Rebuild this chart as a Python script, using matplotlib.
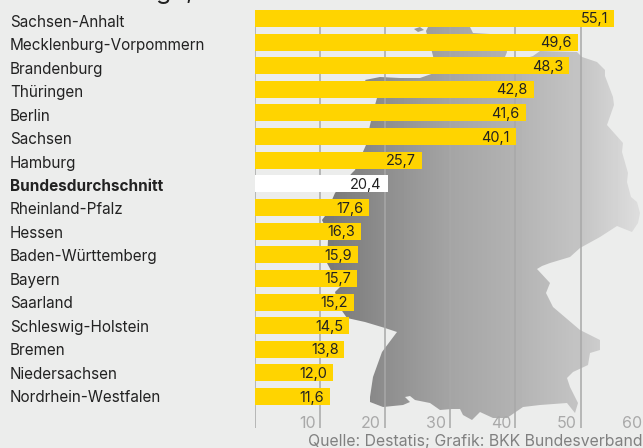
import numpy as np
import matplotlib
matplotlib.use("Agg")
import matplotlib.pyplot as plt
from matplotlib.patches import Polygon

plt.rcParams['font.family'] = ['Inter', 'DejaVu Sans']

W, H = 643, 448
BG = '#ecedec'

# --- data ---
laender = ['Sachsen-Anhalt', 'Mecklenburg-Vorpommern', 'Brandenburg', 'Thüringen',
           'Berlin', 'Sachsen', 'Hamburg', 'Bundesdurchschnitt', 'Rheinland-Pfalz',
           'Hessen', 'Baden-Württemberg', 'Bayern', 'Saarland', 'Schleswig-Holstein',
           'Bremen', 'Niedersachsen', 'Nordrhein-Westfalen']
werte = [55.1, 49.6, 48.3, 42.8, 41.6, 40.1, 25.7, 20.4, 17.6,
         16.3, 15.9, 15.7, 15.2, 14.5, 13.8, 12.0, 11.6]
ticks = [10, 20, 30, 40, 50, 60]
quelle = 'Quelle: Destatis; Grafik: BKK Bundesverband'

# outline of the background map, in picture pixels
karte = [(426, 31), (428, 27), (470, 27), (473, 33), (490, 34), (506, 45), (507, 52), (505, 57),
         (520, 60), (533, 56), (540, 51), (577, 52), (582, 57), (597, 62), (605, 70), (605, 76),
         (613, 97), (614, 105), (607, 125), (623, 143), (622, 152), (628, 173), (627, 182),
         (631, 197), (637, 202), (640, 213), (638, 223), (632, 232), (617, 226), (600, 237),
         (580, 248), (570, 257), (550, 263), (542, 266), (537, 269), (550, 283), (546, 293),
         (553, 307), (580, 330), (600, 340), (600, 350), (590, 353), (588, 365), (573, 372),
         (567, 378), (570, 387), (578, 403), (575, 413), (567, 403), (540, 405), (523, 407),
         (507, 418), (493, 418), (480, 412), (472, 420), (463, 415), (460, 409), (452, 409),
         (440, 410), (430, 403), (415, 400), (410, 396), (405, 397), (410, 402), (403, 405),
         (383, 407), (370, 402), (370, 397), (373, 377), (382, 352), (397, 332), (385, 328),
         (365, 322), (347, 318), (340, 308), (335, 292), (340, 287), (327, 263), (328, 240),
         (330, 237), (322, 220), (325, 216), (335, 193), (352, 173), (355, 170), (366, 145),
         (370, 125), (375, 105), (377, 98), (365, 80), (380, 77), (400, 78), (420, 78),
         (437, 72), (432, 52)]
insel = [(414, 29), (420, 27), (424, 30), (418, 32)]

fig = plt.figure(figsize=(W / 100, H / 100), dpi=100, facecolor=BG)

# --- map layer, full figure in pixel coordinates ---
bg_ax = fig.add_axes([0, 0, 1, 1], zorder=0)
bg_ax.set_xlim(0, W)
bg_ax.set_ylim(H, 0)
bg_ax.axis('off')

# grey gradient from dark (west) to light (east)
gx = np.arange(320, 645)
grau = np.interp(gx, [320, 380, 450, 515, 580, 640], [0.46, 0.55, 0.645, 0.70, 0.77, 0.87])
for umriss in (karte, insel):
    im = bg_ax.imshow(grau[np.newaxis, :], extent=[320, 645, H, 0], cmap='gray',
                      vmin=0, vmax=1, aspect='auto', zorder=1)
    im.set_clip_path(Polygon(umriss, closed=True, transform=bg_ax.transData))
bg_ax.set_xlim(0, W)
bg_ax.set_ylim(H, 0)

# cut off headline above the chart
bg_ax.text(156, -1, 'g', fontsize=18, color='#222222', va='baseline', ha='left')
bg_ax.text(185, -1, ',', fontsize=18, color='#222222', va='baseline', ha='left')

# --- bars ---
STEP = 23.625
x0, top, bottom = 254.5, 10, 428
px_per_unit = 6.52
ax = fig.add_axes([x0 / W, 1 - bottom / H, 60 * px_per_unit / W, (bottom - top) / H], zorder=1)
ax.patch.set_alpha(0)
ax.set_xlim(0, 60)
ax.set_ylim((bottom - 18.5) / STEP, (top - 18.5) / STEP)
for s in ax.spines.values():
    s.set_visible(False)
ax.set_axisbelow(True)
ax.set_xticks([0] + ticks)
ax.set_yticks([])
ax.tick_params(axis='x', length=0, labelbottom=False)
ax.xaxis.grid(True, color='#a8a8a8', linewidth=1.1)

pos = np.arange(len(laender))
farben = ['white' if n == 'Bundesdurchschnitt' else '#ffd400' for n in laender]
ax.barh(pos, werte, height=17 / STEP, color=farben, linewidth=0, zorder=2)

for i, (name, wert) in enumerate(zip(laender, werte)):
    ax.annotate(f'{wert:.1f}'.replace('.', ','), xy=(wert, i), xytext=(-6, -5),
                textcoords='offset pixels', ha='right', va='baseline',
                fontsize=10.4, color='#222222', zorder=3)
    weight = 'bold' if name == 'Bundesdurchschnitt' else 'normal'
    ax.annotate(name, xy=(0, i), xytext=(10 - x0, -(8.5 - 0.19 * i)),
                textcoords='offset pixels', ha='left', va='baseline',
                fontsize=11, color='#222222', fontweight=weight, annotation_clip=False)

for t in ticks:
    ax.annotate(str(t), xy=(t, ax.get_ylim()[0]), xytext=(-4, 0), textcoords='offset pixels',
                ha='right', va='baseline', fontsize=11.5, color='#a9a9a9', annotation_clip=False)

fig.text(643 / W, 1 - 446 / H, quelle, ha='right', va='baseline', fontsize=11.4, color='#808080')

fig.savefig('out.png', dpi=100, facecolor=BG)
